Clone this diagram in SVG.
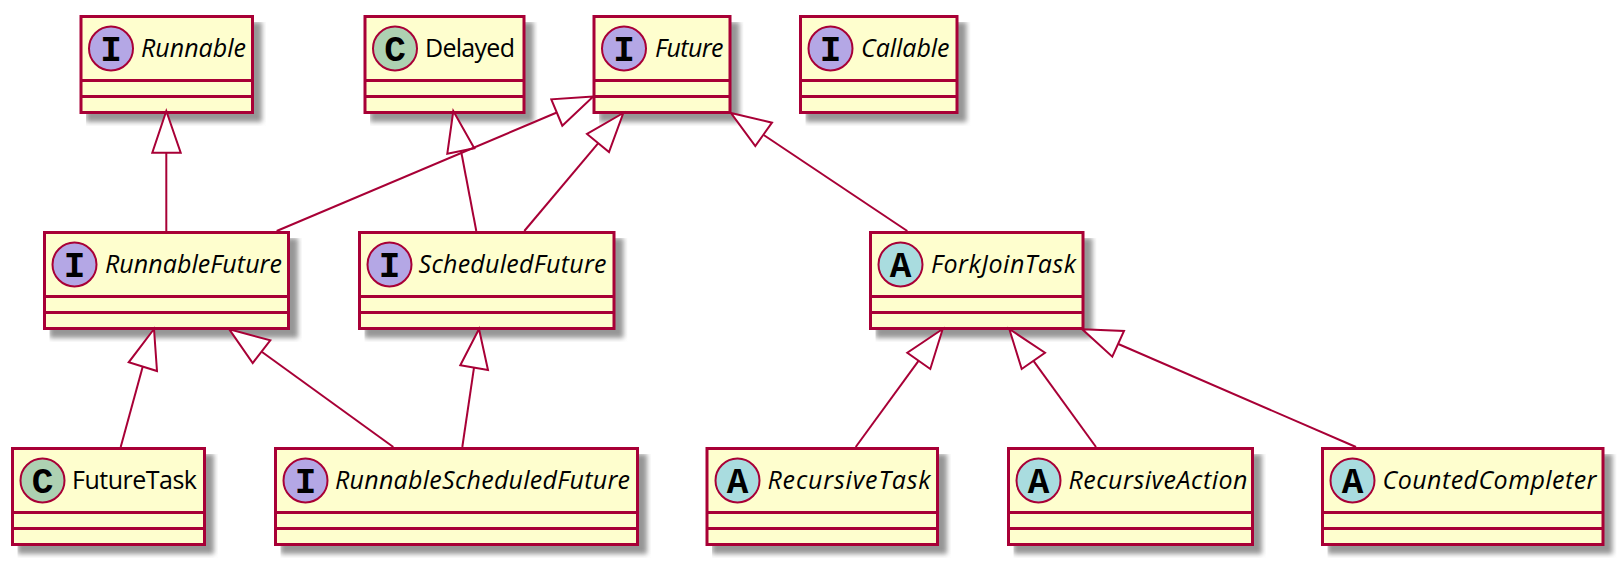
<svg xmlns="http://www.w3.org/2000/svg" width="1622" height="564" viewBox="0 0 1622 564">
<defs>
<filter id="blur" x="-20%" y="-30%" width="140%" height="160%"><feGaussianBlur stdDeviation="2.5"/></filter>
</defs>
<style>
.sh{fill:#969696;stroke:none;filter:url(#blur);clip-path:inset(0 -4px -4px 0)}
.box{fill:#FEFECE;stroke:#A80036;stroke-width:3}
.sep{stroke:#A80036;stroke-width:3;fill:none}
.spot{stroke:#A80036;stroke-width:2}
.i{fill:#B4A7E5}.c{fill:#ADD1B2}.a{fill:#A9DCDF}
.ltr{font-family:"Liberation Mono",monospace;font-weight:700;font-size:36px;text-anchor:middle;fill:#000}
.n{font-family:"Open Sans",sans-serif;font-size:25px;fill:#000}
.it{font-style:italic}
.ln{stroke:#A80036;stroke-width:2;fill:none}
.hd{stroke:#A80036;stroke-width:2;fill:#fff}
</style>
<rect width="1622" height="564" fill="#fff"/>
<g id="node-Runnable"><rect class="sh" x="86" y="22" width="176" height="100"/><rect class="box" x="81" y="16.5" width="171.5" height="96"/><path class="sep" d="M81 80.5H252.5M81 96.5H252.5"/><circle class="spot i" cx="111" cy="48.5" r="22"/><text class="ltr" x="111" y="60.5">I</text><text class="n it" x="141" y="56.7" textLength="105">Runnable</text></g>
<g id="node-Delayed"><rect class="sh" x="370" y="22" width="163.5" height="100"/><rect class="box" x="365" y="16.5" width="159" height="96"/><path class="sep" d="M365 80.5H524M365 96.5H524"/><circle class="spot c" cx="395" cy="48.5" r="22"/><text class="ltr" x="395" y="60.5">C</text><text class="n" x="425" y="56.7" textLength="90">Delayed</text></g>
<g id="node-Future"><rect class="sh" x="599" y="22" width="140.5" height="100"/><rect class="box" x="594" y="16.5" width="136" height="96"/><path class="sep" d="M594 80.5H730M594 96.5H730"/><circle class="spot i" cx="624" cy="48.5" r="22"/><text class="ltr" x="624" y="60.5">I</text><text class="n it" x="655" y="56.7" textLength="68.5">Future</text></g>
<g id="node-Callable"><rect class="sh" x="805.5" y="22" width="161" height="100"/><rect class="box" x="800.5" y="16.5" width="156.5" height="96"/><path class="sep" d="M800.5 80.5H957M800.5 96.5H957"/><circle class="spot i" cx="830.5" cy="48.5" r="22"/><text class="ltr" x="830.5" y="60.5">I</text><text class="n it" x="861" y="56.7" textLength="88.5">Callable</text></g>
<g id="node-RunnableFuture"><rect class="sh" x="49.5" y="238" width="248.5" height="100"/><rect class="box" x="44.5" y="232.5" width="244" height="96"/><path class="sep" d="M44.5 296.5H288.5M44.5 312.5H288.5"/><circle class="spot i" cx="74.5" cy="264.5" r="22"/><text class="ltr" x="74.5" y="276.5">I</text><text class="n it" x="105" y="272.7" textLength="177">RunnableFuture</text></g>
<g id="node-ScheduledFuture"><rect class="sh" x="364.5" y="238" width="259" height="100"/><rect class="box" x="359.5" y="232.5" width="254.5" height="96"/><path class="sep" d="M359.5 296.5H614M359.5 312.5H614"/><circle class="spot i" cx="389.5" cy="264.5" r="22"/><text class="ltr" x="389.5" y="276.5">I</text><text class="n it" x="418.5" y="272.7" textLength="188">ScheduledFuture</text></g>
<g id="node-ForkJoinTask"><rect class="sh" x="875.5" y="238" width="217" height="100"/><rect class="box" x="870.5" y="232.5" width="212.5" height="96"/><path class="sep" d="M870.5 296.5H1083M870.5 312.5H1083"/><circle class="spot a" cx="900.5" cy="264.5" r="22"/><text class="ltr" x="900.5" y="276.5">A</text><text class="n it" x="931" y="272.7" textLength="145">ForkJoinTask</text></g>
<g id="node-FutureTask"><rect class="sh" x="17.5" y="454" width="196.5" height="100"/><rect class="box" x="12.5" y="448.5" width="192" height="96"/><path class="sep" d="M12.5 512.5H204.5M12.5 528.5H204.5"/><circle class="spot c" cx="42.5" cy="480.5" r="22"/><text class="ltr" x="42.5" y="492.5">C</text><text class="n" x="72" y="488.7" textLength="125">FutureTask</text></g>
<g id="node-RunnableScheduledFuture"><rect class="sh" x="280.5" y="454" width="366.5" height="100"/><rect class="box" x="275.5" y="448.5" width="362" height="96"/><path class="sep" d="M275.5 512.5H637.5M275.5 528.5H637.5"/><circle class="spot i" cx="305.5" cy="480.5" r="22"/><text class="ltr" x="305.5" y="492.5">I</text><text class="n it" x="335" y="488.7" textLength="295">RunnableScheduledFuture</text></g>
<g id="node-RecursiveTask"><rect class="sh" x="712" y="454" width="235" height="100"/><rect class="box" x="707" y="448.5" width="230.5" height="96"/><path class="sep" d="M707 512.5H937.5M707 528.5H937.5"/><circle class="spot a" cx="737.5" cy="480.5" r="22"/><text class="ltr" x="737.5" y="492.5">A</text><text class="n it" x="767.5" y="488.7" textLength="163">RecursiveTask</text></g>
<g id="node-RecursiveAction"><rect class="sh" x="1013.5" y="454" width="248.5" height="100"/><rect class="box" x="1008.5" y="448.5" width="244" height="96"/><path class="sep" d="M1008.5 512.5H1252.5M1008.5 528.5H1252.5"/><circle class="spot a" cx="1038.5" cy="480.5" r="22"/><text class="ltr" x="1038.5" y="492.5">A</text><text class="n it" x="1068.5" y="488.7" textLength="179">RecursiveAction</text></g>
<g id="node-CountedCompleter"><rect class="sh" x="1327.5" y="454" width="285" height="100"/><rect class="box" x="1322.5" y="448.5" width="280.5" height="96"/><path class="sep" d="M1322.5 512.5H1603M1322.5 528.5H1603"/><circle class="spot a" cx="1352.5" cy="480.5" r="22"/><text class="ltr" x="1352.5" y="492.5">A</text><text class="n it" x="1382.5" y="488.7" textLength="214">CountedCompleter</text></g>
<g id="connectors">
<path class="ln" d="M166.3 152.7V231.5"/><path class="hd" d="M166.3 111L152.3 152.7H180.7Z"/>
<path class="ln" d="M461 150.7L476.3 231"/><path class="hd" d="M453.3 111L447.3 153.7L474.3 148.3Z"/>
<path class="ln" d="M556.8 112.5L276.7 231"/><path class="hd" d="M593.3 96.5L551.3 99.3L562.3 125.7Z"/>
<path class="ln" d="M598.7 142.7L524.3 231"/><path class="hd" d="M623.3 113L587 134L609 152Z"/>
<path class="ln" d="M763.7 135L907.3 231"/><path class="hd" d="M731 113L772 122.7L755.3 146Z"/>
<path class="ln" d="M142.7 366.7L120.7 447"/><path class="hd" d="M154 329L128.7 362.3L157 371Z"/>
<path class="ln" d="M261.7 351.7L393.3 447"/><path class="hd" d="M229.3 329.3L270.3 340.3L252.7 363Z"/>
<path class="ln" d="M474 367.7L462.3 447"/><path class="hd" d="M479 329L460.3 365.3L488 370Z"/>
<path class="ln" d="M918.7 360.7L855.7 447"/><path class="hd" d="M942.7 329L907.3 352.7L930.3 369Z"/>
<path class="ln" d="M1033.3 360.7L1096 447"/><path class="hd" d="M1009.3 329L1045 352.7L1021.7 369Z"/>
<path class="ln" d="M1118.3 344L1356 447"/><path class="hd" d="M1082.3 329.3L1124 331L1112.3 356.7Z"/>
</g>
</svg>
